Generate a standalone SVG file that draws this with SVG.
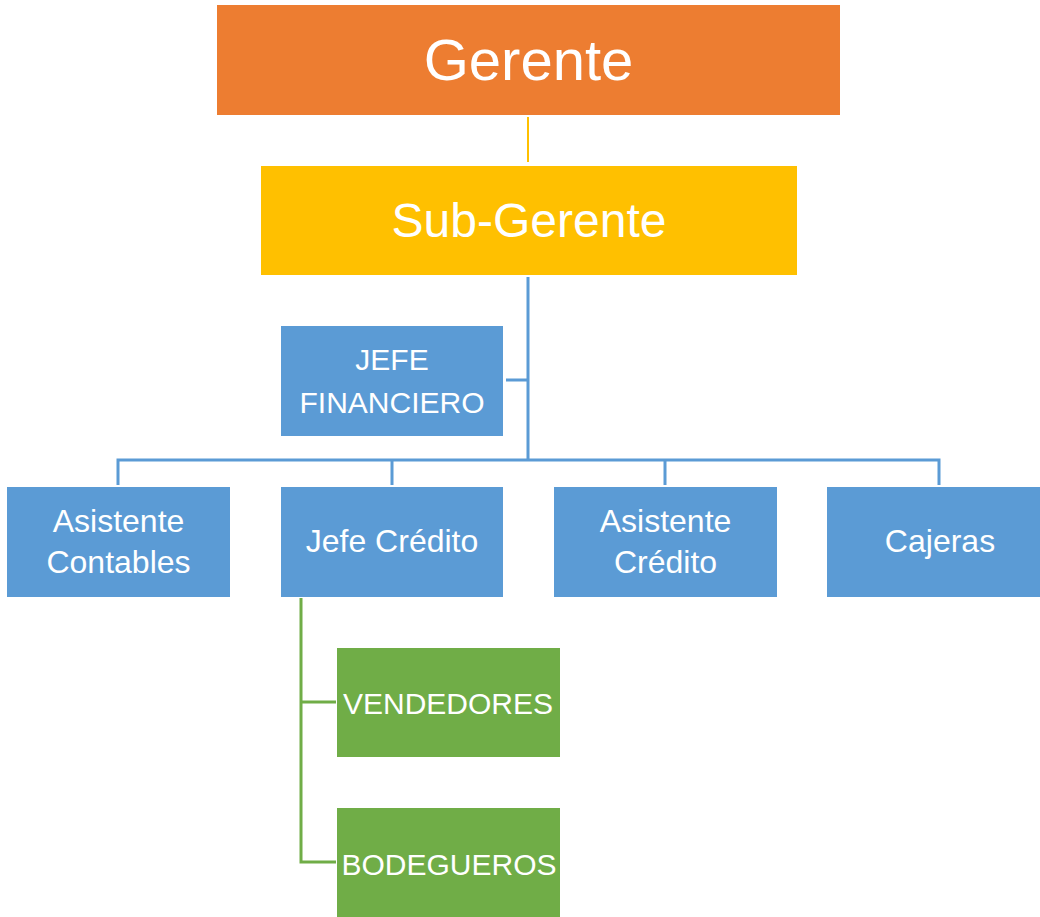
<svg xmlns="http://www.w3.org/2000/svg" width="1040" height="917" viewBox="0 0 1040 917">
<style>
text{font-family:"Liberation Sans",Arial,sans-serif;fill:#fff;text-anchor:middle}
.b rect{fill:#5B9BD5}
.g rect{fill:#70AD47}
.lb{stroke:#5B9BD5;stroke-width:3;fill:none}
.lg{stroke:#70AD47;stroke-width:3;fill:none}
.lo{stroke:#FFC000;stroke-width:2;fill:none}
.t32{font-size:32px}
.t30{font-size:30px}
</style>
<rect width="1040" height="917" fill="#fff"/>
<g id="connectors">
<path class="lo" d="M528 117V162"/>
<path class="lb" d="M528 277V460M506 380H528M118 485V460H939V485M392 460V485M665 460V485"/>
<path class="lg" d="M301 598V862H336M301 702H336"/>
</g>
<g id="gerente"><rect x="217" y="5" width="623" height="110" fill="#ED7D31"/><text x="528.5" y="80" font-size="58">Gerente</text></g>
<g id="subgerente"><rect x="261" y="166" width="536" height="109" fill="#FFC000"/><text x="529" y="237" font-size="48">Sub-Gerente</text></g>
<g id="jefe-financiero" class="b"><rect x="281" y="326" width="222" height="110"/><text x="392" y="370" class="t30">JEFE</text><text x="392" y="413" class="t30">FINANCIERO</text></g>
<g id="asistente-contables" class="b"><rect x="7" y="487" width="223" height="110"/><text x="118.5" y="532" class="t32">Asistente</text><text x="118.5" y="573" class="t32">Contables</text></g>
<g id="jefe-credito" class="b"><rect x="281" y="487" width="222" height="110"/><text x="392" y="552" class="t32">Jefe Crédito</text></g>
<g id="asistente-credito" class="b"><rect x="554" y="487" width="223" height="110"/><text x="665.5" y="532" class="t32">Asistente</text><text x="665.5" y="573" class="t32">Crédito</text></g>
<g id="cajeras" class="b"><rect x="827" y="487" width="223" height="110"/><text x="940" y="552" class="t32">Cajeras</text></g>
<g id="vendedores" class="g"><rect x="337" y="648" width="223" height="109"/><text x="448" y="714" class="t30">VENDEDORES</text></g>
<g id="bodegueros" class="g"><rect x="337" y="808" width="223" height="109"/><text x="449" y="875" class="t30">BODEGUEROS</text></g>
</svg>
